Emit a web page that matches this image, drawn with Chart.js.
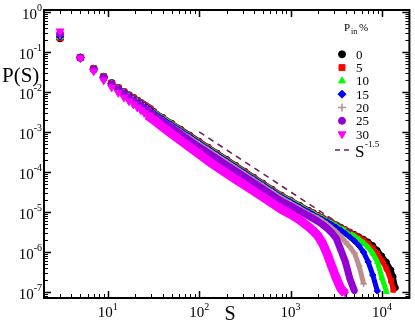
<!DOCTYPE html>
<html><head><meta charset="utf-8">
<script src="https://cdn.jsdelivr.net/npm/chart.js@4/dist/chart.umd.min.js"></script>
<style>html,body{margin:0;padding:0;background:#fff}canvas{display:block}</style>
</head><body>
<canvas id="c" width="415" height="323"></canvas>
<script>
// ---- data ----
const sizes = [3,5,7,9,11,13,15,17,19,21,23,25,27,29,
  32,40,50,63,79,100,126,158,200,251,316,398,501,631,794,1000,1259,1585,
  1778,1995,2239,2512,2818,3162,3548,3981,4467,5012,5623,6310,7079,7943,8913,10000,11220,12589,13335,14125];
const pinLabels = ['0','5','10','15','20','25','30'];
const p0 = [0.219,0.0724,0.038,0.024,0.0166,0.0126,0.0100,0.0083,0.0071,0.0061,0.0053,0.00468,0.00417,0.00376,
  0.00326,0.00233,0.00167,0.00118,8.4e-4,5.9e-4,4.18e-4,2.97e-4,2.08e-4,1.48e-4,1.05e-4,7.43e-5,5.26e-5,3.72e-5,2.64e-5,2.0e-5,1.48e-5,1.10e-5,
  9.55e-6,8.3e-6,7.24e-6,6.3e-6,5.5e-6,4.79e-6,4.17e-6,3.63e-6,3.16e-6,2.75e-6,2.4e-6,2.09e-6,1.78e-6,1.45e-6,1.10e-6,7.9e-7,5.6e-7,3.55e-7,2.4e-7,1.26e-7];
const p5 = [0.23,0.0724,0.038,0.024,0.0165,0.0125,0.0099,0.0082,0.0070,0.0060,0.0052,0.00458,0.00408,0.00368,
  0.00319,0.00228,0.00163,0.00115,8.2e-4,5.77e-4,4.08e-4,2.9e-4,2.03e-4,1.45e-4,1.03e-4,7.26e-5,5.14e-5,3.64e-5,2.58e-5,1.95e-5,1.45e-5,1.07e-5,
  9.33e-6,8.13e-6,7.08e-6,6.17e-6,5.37e-6,4.68e-6,4.07e-6,3.55e-6,3.09e-6,2.66e-6,2.29e-6,1.95e-6,1.58e-6,1.23e-6,8.9e-7,6.0e-7,3.8e-7,1.9e-7,1.12e-7,null];
const p10 = [0.24,0.072,0.0375,0.0237,0.0163,0.0123,0.0097,0.0080,0.0068,0.0059,0.0051,0.0045,0.0040,0.0036,
  0.00308,0.0022,0.00158,0.00111,7.9e-4,5.57e-4,3.95e-4,2.8e-4,1.96e-4,1.4e-4,9.9e-5,7.0e-5,4.97e-5,3.51e-5,2.49e-5,1.89e-5,1.4e-5,1.04e-5,
  9.0e-6,7.85e-6,6.84e-6,5.96e-6,5.19e-6,4.52e-6,3.89e-6,3.39e-6,2.88e-6,2.45e-6,2.04e-6,1.66e-6,1.29e-6,9.1e-7,5.6e-7,2.24e-7,1.0e-7,null,null,null];
const p15 = [0.25,0.0715,0.037,0.0234,0.0161,0.0121,0.0095,0.0078,0.0066,0.0057,0.0050,0.0044,0.0039,0.0035,
  0.00294,0.0021,0.00151,0.00106,7.6e-4,5.3e-4,3.77e-4,2.68e-4,1.88e-4,1.33e-4,9.5e-5,6.7e-5,4.74e-5,3.36e-5,2.38e-5,1.8e-5,1.33e-5,9.9e-6,
  8.5e-6,7.4e-6,6.46e-6,5.62e-6,4.79e-6,4.07e-6,3.47e-6,2.88e-6,2.34e-6,1.86e-6,1.41e-6,9.8e-7,5.6e-7,2.63e-7,1.05e-7,null,null,null,null,null];
const p20 = [0.27,0.071,0.0365,0.023,0.0158,0.0118,0.0092,0.0076,0.0064,0.0055,0.0048,0.0042,0.0037,0.0033,
  0.00274,0.00196,0.0014,9.9e-4,7.1e-4,4.96e-4,3.52e-4,2.5e-4,1.75e-4,1.24e-4,8.8e-5,6.25e-5,4.42e-5,3.13e-5,2.22e-5,1.66e-5,1.22e-5,9.0e-6,
  7.9e-6,6.9e-6,5.9e-6,4.9e-6,3.98e-6,3.16e-6,2.4e-6,1.78e-6,1.32e-6,9.3e-7,4.47e-7,1.58e-7,null,null,null,null,null,null,null,null];
const p25 = [0.29,0.071,0.036,0.0225,0.0153,0.0114,0.0088,0.0072,0.0060,0.0051,0.0044,0.0039,0.0034,0.0030,
  0.00259,0.00181,0.00127,8.8e-4,6.1e-4,4.18e-4,2.96e-4,2.1e-4,1.47e-4,1.05e-4,7.43e-5,5.26e-5,3.72e-5,2.63e-5,1.87e-5,1.42e-5,1.05e-5,7.8e-6,
  6.76e-6,5.75e-6,4.79e-6,3.89e-6,3.02e-6,2.19e-6,1.12e-6,5.6e-7,2.1e-7,1.05e-7,null,null,null,null,null,null,null,null,null,null];
const p30 = [0.33,0.070,0.033,0.0195,0.013,0.0095,0.0073,0.0059,0.0049,0.0041,0.0035,0.0030,0.0026,0.0023,
  0.00196,0.00131,8.9e-4,6.0e-4,4.1e-4,2.77e-4,1.87e-4,1.3e-4,9.1e-5,6.5e-5,4.6e-5,3.26e-5,2.31e-5,1.63e-5,1.16e-5,8.7e-6,6.3e-6,4.17e-6,
  3.31e-6,2.51e-6,1.62e-6,9.0e-7,4.4e-7,2.2e-7,1.2e-7,9.0e-8,null,null,null,null,null,null,null,null,null,null,null,null];
const refS = [100, 5000];
const refP = [1e-3, 2.83e-6];
const xTickExps = [1,2,3,4];
const yTickExps = [0,-1,-2,-3,-4,-5,-6,-7];

// ---- styles ----
const series = [p0,p5,p10,p15,p20,p25,p30];
const colors = ['#000000','#ff0000','#00ff00','#0000ff','#bc8f8f','#9400d3','#ff00ff'];
const styles = ['circle','rect','triangle','rectRot','cross','circle','triangle'];
const rots = [0,0,0,0,0,0,180];
const radii = [3.5,4.2,4,4,4,3.5,4.5];
const lineW = [5,5,5,5,5,7,9];
const refColor = '#6e1f5c';
const SERIF = '"Liberation Serif", "Times New Roman", serif';

const datasets = series.map((arr,i)=>({
  label: pinLabels[i],
  data: sizes.map((s,j)=>({x:s,y:arr[j]})).filter(p=>p.y!=null),
  showLine: true,
  borderColor: colors[i],
  backgroundColor: colors[i],
  borderWidth: lineW[i],
  segment: { borderColor: c => c.p0.parsed.x >= 27 ? colors[i] : 'rgba(0,0,0,0)' },
  pointStyle: styles[i],
  rotation: rots[i],
  pointRadius: c => (c.raw && c.raw.x >= 32) ? radii[i] * 0.8 : radii[i],
  pointBorderWidth: styles[i]==='cross' ? 1.6 : 1,
  pointBorderColor: colors[i],
  pointBackgroundColor: colors[i],
  order: 6 - i
}));
datasets.push({
  label: 'S^-1.5',
  data: refS.map((s,j)=>({x:s,y:refP[j]})),
  showLine: true, borderColor: refColor, borderWidth: 1.6, borderDash: [6,5],
  pointRadius: 0, order: -1
});

function powLabel(ctx, exp, x, yb, align) {
  ctx.font = '15px ' + SERIF;
  const w1 = ctx.measureText('10').width;
  ctx.font = '10px ' + SERIF;
  const w2 = ctx.measureText(String(exp)).width;
  const x0 = align === 'right' ? x - w1 - w2 : x - (w1 + w2) / 2;
  ctx.textAlign = 'left';
  ctx.font = '15px ' + SERIF;
  ctx.fillText('10', x0, yb);
  ctx.font = '10px ' + SERIF;
  ctx.fillText(String(exp), x0 + w1, yb - 7.5);
}

function marker(ctx, i, x, y) {
  ctx.fillStyle = colors[i]; ctx.strokeStyle = colors[i];
  ctx.lineWidth = styles[i]==='cross' ? 1.6 : 1;
  if (Chart.helpers && Chart.helpers.drawPoint) {
    Chart.helpers.drawPoint(ctx, {pointStyle: styles[i], rotation: rots[i], radius: radii[i], borderWidth: ctx.lineWidth}, x, y);
  } else {
    ctx.beginPath(); ctx.arc(x, y, radii[i], 0, Math.PI*2); ctx.fill();
  }
}

const frame = {
  id: 'frame',
  afterDraw(chart) {
    const {ctx, chartArea: a, scales: {x, y}} = chart;
    ctx.save();
    for (let e = 0; e <= 4; e++) for (let k = 1; k <= 9; k++) {
      const v = k * Math.pow(10, e);
      if (v < 2 || v > 2e4) continue;
      const px = Math.round(x.getPixelForValue(v)) + 0.5;
      const L = k === 1 ? 7 : 4;
      ctx.lineWidth = k === 1 ? 1.5 : 1;
      ctx.beginPath();
      ctx.moveTo(px, a.bottom); ctx.lineTo(px, a.bottom - L);
      ctx.moveTo(px, a.top); ctx.lineTo(px, a.top + L);
      ctx.stroke();
    }
    for (let e = -8; e <= 0; e++) for (let k = 1; k <= 9; k++) {
      const v = k * Math.pow(10, e);
      if (v < 7e-8 || v > 1.12) continue;
      const py = Math.round(y.getPixelForValue(v)) + 0.5;
      const L = k === 1 ? 7 : 4;
      ctx.lineWidth = k === 1 ? 1.5 : 1;
      ctx.beginPath();
      ctx.moveTo(a.left, py); ctx.lineTo(a.left + L, py);
      ctx.moveTo(a.right, py); ctx.lineTo(a.right - L, py);
      ctx.stroke();
    }
    ctx.lineWidth = 2; ctx.strokeStyle = '#000';
    ctx.strokeRect(a.left, a.top, a.right - a.left, a.bottom - a.top);
    ctx.fillStyle = '#000'; ctx.textBaseline = 'alphabetic';
    xTickExps.forEach(e => powLabel(ctx, e, x.getPixelForValue(Math.pow(10, e)), 317, 'center'));
    yTickExps.forEach(e => powLabel(ctx, e, 42, y.getPixelForValue(Math.pow(10, e)) + 7, 'right'));
    ctx.font = '21px ' + SERIF; ctx.textAlign = 'left';
    ctx.fillText('P(S)', 2, 82);
    ctx.font = '20px ' + SERIF; ctx.textAlign = 'center';
    ctx.fillText('S', 230, 320);
    ctx.textAlign = 'left';
    ctx.font = '11px ' + SERIF; ctx.fillText('P', 344, 31);
    ctx.font = '8px ' + SERIF; ctx.fillText('in', 351, 34);
    ctx.font = '11px ' + SERIF; ctx.fillText('%', 359, 31);
    for (let i = 0; i < 7; i++) {
      const ly = 54.3 + 13.3 * i;
      marker(ctx, i, 342, ly);
      ctx.fillStyle = '#000';
      ctx.font = '13px ' + SERIF;
      ctx.fillText(pinLabels[i], 356, ly + 4.5);
    }
    ctx.strokeStyle = refColor; ctx.lineWidth = 1.6; ctx.setLineDash([5, 4]);
    ctx.beginPath(); ctx.moveTo(335, 150); ctx.lineTo(351, 150); ctx.stroke();
    ctx.setLineDash([]);
    ctx.fillStyle = '#000';
    ctx.font = '17px ' + SERIF; ctx.fillText('S', 355, 157);
    ctx.font = '9px ' + SERIF; ctx.fillText('-1.5', 365, 147);
    ctx.restore();
  }
};

new Chart(document.getElementById('c'), {
  type: 'scatter',
  data: { datasets },
  options: {
    responsive: false, animation: false, devicePixelRatio: 1,
    layout: { padding: { left: 44, right: 4, top: 10, bottom: 25 } },
    scales: {
      x: { type: 'logarithmic', min: 2, max: 2e4, display: false },
      y: { type: 'logarithmic', min: 7e-8, max: 1.12, display: false }
    },
    plugins: { legend: { display: false }, tooltip: { enabled: false } }
  },
  plugins: [frame]
});
</script>
</body></html>
